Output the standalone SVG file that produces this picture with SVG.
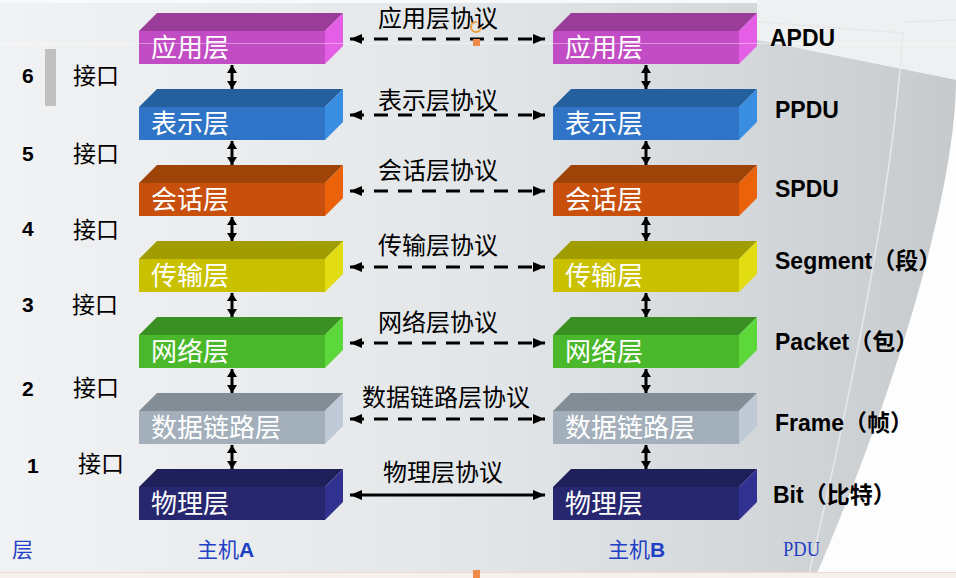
<svg xmlns="http://www.w3.org/2000/svg" width="956" height="578" viewBox="0 0 956 578">
<style>
.cjk{font-family:"Noto Sans CJK SC","Liberation Sans",sans-serif}
.bl{fill:#fff;font-size:26px}
.pr{fill:#000;font-size:24px}
.pdu{font-family:"Liberation Sans","Noto Sans CJK SC",sans-serif;font-weight:bold;font-size:23px;fill:#000}
.num{font-family:"Liberation Sans",sans-serif;font-weight:bold;font-size:21px;fill:#000}
.ifc{fill:#000;font-size:23px}
.blue{fill:#1F3FC4}
.harr{stroke:#000;stroke-width:3;fill:none}
.dash{stroke-dasharray:14 10}
.varr{stroke:#000;stroke-width:3;fill:none}
</style>
<defs>
<linearGradient id="bg" x1="0" y1="0" x2="956" y2="0" gradientUnits="userSpaceOnUse">
<stop offset="0" stop-color="#F1F2F3"/>
<stop offset="0.5" stop-color="#E3E6E8"/>
<stop offset="0.8" stop-color="#D4D7DA"/>
<stop offset="1" stop-color="#D0D3D6"/>
</linearGradient>
<linearGradient id="gray" x1="757" y1="0" x2="956" y2="0" gradientUnits="userSpaceOnUse">
<stop offset="0" stop-color="#D4D7DA"/>
<stop offset="1" stop-color="#C6CACD"/>
</linearGradient>
<marker id="hh" markerUnits="userSpaceOnUse" markerWidth="12" markerHeight="10" refX="12" refY="5" orient="auto-start-reverse" viewBox="0 0 12 10"><path d="M0,0 L12,5 L0,10 Z" fill="#000"/></marker>
<marker id="vh" markerUnits="userSpaceOnUse" markerWidth="8" markerHeight="10" refX="8" refY="5" orient="auto-start-reverse" viewBox="0 0 8 10"><path d="M0,0 L8,5 L0,10 Z" fill="#000"/></marker>
</defs>

<g id="background">
<rect x="0" y="0" width="956" height="578" fill="url(#bg)"/>
<rect x="0" y="0" width="956" height="3" fill="#F8F9FA"/>
<path d="M757,0 H956 V80 L757,40 Z" fill="#EEF0F1"/>
<path d="M757,40 L956,80 C956,180 905,370 815,578 L757,578 Z" fill="url(#gray)"/>
<path d="M956,80 C956,180 905,370 815,578 L956,578 Z" fill="#FDFDFD"/>
<path d="M758,22 L903,33 Q890,230 808,578" fill="none" stroke="#E6E8EA" stroke-width="1.5"/>
<line x1="903" y1="22" x2="956" y2="20" stroke="#E2E4E6" stroke-width="1"/>
<rect x="0" y="572" width="956" height="6" fill="#F6F1EE"/>
<line x1="0" y1="572.5" x2="956" y2="572.5" stroke="#EED9CC" stroke-width="1"/>
</g>

<g id="left-labels" class="cjk">
<rect x="45" y="49" width="11" height="57" fill="#C0C0C0"/>
<text class="num" x="22" y="83">6</text>
<text class="num" x="22" y="161">5</text>
<text class="num" x="22" y="236">4</text>
<text class="num" x="22" y="312">3</text>
<text class="num" x="22" y="396">2</text>
<text class="num" x="27" y="473">1</text>
<text class="ifc cjk" x="73" y="84">接口</text>
<text class="ifc cjk" x="73" y="162">接口</text>
<text class="ifc cjk" x="73" y="238">接口</text>
<text class="ifc cjk" x="72" y="313">接口</text>
<text class="ifc cjk" x="73" y="396">接口</text>
<text class="ifc cjk" x="78" y="472">接口</text>
</g>

<g id="hostA-app" transform="translate(139,13)">
<polygon points="0,18 18,0 204,0 186,18" fill="#9A3D98"/>
<polygon points="186,18 204,0 204,33 186,51" fill="#E45EE6"/>
<rect x="0" y="18" width="186" height="33" fill="#C24CC4"/>
<text class="bl cjk" x="12" y="44">应用层</text>
</g>
<g id="hostA-pres" transform="translate(139,89)">
<polygon points="0,18 18,0 204,0 186,18" fill="#24609E"/>
<polygon points="186,18 204,0 204,33 186,51" fill="#3A8EE2"/>
<rect x="0" y="18" width="186" height="33" fill="#2F74C6"/>
<text class="bl cjk" x="12" y="44">表示层</text>
</g>
<g id="hostA-sess" transform="translate(139,165)">
<polygon points="0,18 18,0 204,0 186,18" fill="#9E4408"/>
<polygon points="186,18 204,0 204,33 186,51" fill="#EA620A"/>
<rect x="0" y="18" width="186" height="33" fill="#C8500C"/>
<text class="bl cjk" x="12" y="44">会话层</text>
</g>
<g id="hostA-trans" transform="translate(139,241)">
<polygon points="0,18 18,0 204,0 186,18" fill="#A19C00"/>
<polygon points="186,18 204,0 204,33 186,51" fill="#E2DC12"/>
<rect x="0" y="18" width="186" height="33" fill="#C9C100"/>
<text class="bl cjk" x="12" y="44">传输层</text>
</g>
<g id="hostA-net" transform="translate(139,317)">
<polygon points="0,18 18,0 204,0 186,18" fill="#3A9022"/>
<polygon points="186,18 204,0 204,33 186,51" fill="#5CD83A"/>
<rect x="0" y="18" width="186" height="33" fill="#4AB82A"/>
<text class="bl cjk" x="12" y="44">网络层</text>
</g>
<g id="hostA-link" transform="translate(139,393)">
<polygon points="0,18 18,0 204,0 186,18" fill="#838D96"/>
<polygon points="186,18 204,0 204,33 186,51" fill="#BFCAD6"/>
<rect x="0" y="18" width="186" height="33" fill="#A3AFBA"/>
<text class="bl cjk" x="12" y="44">数据链路层</text>
</g>
<g id="hostA-phys" transform="translate(139,469)">
<polygon points="0,18 18,0 204,0 186,18" fill="#1F1F5A"/>
<polygon points="186,18 204,0 204,33 186,51" fill="#313192"/>
<rect x="0" y="18" width="186" height="33" fill="#272770"/>
<text class="bl cjk" x="12" y="44">物理层</text>
</g>

<g id="hostB-app" transform="translate(553,13)">
<polygon points="0,18 18,0 204,0 186,18" fill="#9A3D98"/>
<polygon points="186,18 204,0 204,33 186,51" fill="#E45EE6"/>
<rect x="0" y="18" width="186" height="33" fill="#C24CC4"/>
<text class="bl cjk" x="12" y="44">应用层</text>
</g>
<g id="hostB-pres" transform="translate(553,89)">
<polygon points="0,18 18,0 204,0 186,18" fill="#24609E"/>
<polygon points="186,18 204,0 204,33 186,51" fill="#3A8EE2"/>
<rect x="0" y="18" width="186" height="33" fill="#2F74C6"/>
<text class="bl cjk" x="12" y="44">表示层</text>
</g>
<g id="hostB-sess" transform="translate(553,165)">
<polygon points="0,18 18,0 204,0 186,18" fill="#9E4408"/>
<polygon points="186,18 204,0 204,33 186,51" fill="#EA620A"/>
<rect x="0" y="18" width="186" height="33" fill="#C8500C"/>
<text class="bl cjk" x="12" y="44">会话层</text>
</g>
<g id="hostB-trans" transform="translate(553,241)">
<polygon points="0,18 18,0 204,0 186,18" fill="#A19C00"/>
<polygon points="186,18 204,0 204,33 186,51" fill="#E2DC12"/>
<rect x="0" y="18" width="186" height="33" fill="#C9C100"/>
<text class="bl cjk" x="12" y="44">传输层</text>
</g>
<g id="hostB-net" transform="translate(553,317)">
<polygon points="0,18 18,0 204,0 186,18" fill="#3A9022"/>
<polygon points="186,18 204,0 204,33 186,51" fill="#5CD83A"/>
<rect x="0" y="18" width="186" height="33" fill="#4AB82A"/>
<text class="bl cjk" x="12" y="44">网络层</text>
</g>
<g id="hostB-link" transform="translate(553,393)">
<polygon points="0,18 18,0 204,0 186,18" fill="#838D96"/>
<polygon points="186,18 204,0 204,33 186,51" fill="#BFCAD6"/>
<rect x="0" y="18" width="186" height="33" fill="#A3AFBA"/>
<text class="bl cjk" x="12" y="44">数据链路层</text>
</g>
<g id="hostB-phys" transform="translate(553,469)">
<polygon points="0,18 18,0 204,0 186,18" fill="#1F1F5A"/>
<polygon points="186,18 204,0 204,33 186,51" fill="#313192"/>
<rect x="0" y="18" width="186" height="33" fill="#272770"/>
<text class="bl cjk" x="12" y="44">物理层</text>
</g>

<line x1="0" y1="43.5" x2="956" y2="43.5" stroke="#FFFFFF" stroke-opacity="0.4" stroke-width="1"/>

<g id="connectors">
<line class="varr" x1="232" y1="65" x2="232" y2="89" marker-start="url(#vh)" marker-end="url(#vh)"/>
<line class="varr" x1="232" y1="141" x2="232" y2="165" marker-start="url(#vh)" marker-end="url(#vh)"/>
<line class="varr" x1="232" y1="217" x2="232" y2="241" marker-start="url(#vh)" marker-end="url(#vh)"/>
<line class="varr" x1="232" y1="293" x2="232" y2="317" marker-start="url(#vh)" marker-end="url(#vh)"/>
<line class="varr" x1="232" y1="369" x2="232" y2="393" marker-start="url(#vh)" marker-end="url(#vh)"/>
<line class="varr" x1="232" y1="445" x2="232" y2="469" marker-start="url(#vh)" marker-end="url(#vh)"/>
<line class="varr" x1="646" y1="65" x2="646" y2="89" marker-start="url(#vh)" marker-end="url(#vh)"/>
<line class="varr" x1="646" y1="141" x2="646" y2="165" marker-start="url(#vh)" marker-end="url(#vh)"/>
<line class="varr" x1="646" y1="217" x2="646" y2="241" marker-start="url(#vh)" marker-end="url(#vh)"/>
<line class="varr" x1="646" y1="293" x2="646" y2="317" marker-start="url(#vh)" marker-end="url(#vh)"/>
<line class="varr" x1="646" y1="369" x2="646" y2="393" marker-start="url(#vh)" marker-end="url(#vh)"/>
<line class="varr" x1="646" y1="445" x2="646" y2="469" marker-start="url(#vh)" marker-end="url(#vh)"/>
<line class="harr dash" x1="350" y1="39" x2="545" y2="39" marker-start="url(#hh)" marker-end="url(#hh)"/>
<line class="harr dash" x1="350" y1="115" x2="545" y2="115" marker-start="url(#hh)" marker-end="url(#hh)"/>
<line class="harr dash" x1="350" y1="191" x2="545" y2="191" marker-start="url(#hh)" marker-end="url(#hh)"/>
<line class="harr dash" x1="350" y1="267" x2="545" y2="267" marker-start="url(#hh)" marker-end="url(#hh)"/>
<line class="harr dash" x1="350" y1="343" x2="545" y2="343" marker-start="url(#hh)" marker-end="url(#hh)"/>
<line class="harr dash" x1="350" y1="419" x2="545" y2="419" marker-start="url(#hh)" marker-end="url(#hh)"/>
<line class="harr" x1="350" y1="495" x2="545" y2="495" marker-start="url(#hh)" marker-end="url(#hh)"/>
</g>

<g id="protocol-labels" class="cjk">
<text class="pr cjk" x="378" y="27">应用层协议</text>
<text class="pr cjk" x="378" y="109">表示层协议</text>
<text class="pr cjk" x="378" y="179">会话层协议</text>
<text class="pr cjk" x="378" y="254">传输层协议</text>
<text class="pr cjk" x="378" y="331">网络层协议</text>
<text class="pr cjk" x="362" y="406">数据链路层协议</text>
<text class="pr cjk" x="383" y="481">物理层协议</text>
</g>

<g id="pdu-labels">
<text class="pdu" x="770" y="46">APDU</text>
<text class="pdu" x="775" y="118">PPDU</text>
<text class="pdu" x="775" y="197">SPDU</text>
<text class="pdu" x="775" y="269">Segment（段）</text>
<text class="pdu" x="775" y="350">Packet（包）</text>
<text class="pdu" x="775" y="431">Frame（帧）</text>
<text class="pdu" x="773" y="503">Bit（比特）</text>
</g>

<g id="footer-labels">
<text class="blue cjk" x="12" y="557" font-size="21">层</text>
<text class="blue cjk" x="197" y="557" font-size="21">主机<tspan font-family="Liberation Sans,sans-serif" font-weight="bold">A</tspan></text>
<text class="blue cjk" x="608" y="557" font-size="21">主机<tspan font-family="Liberation Sans,sans-serif" font-weight="bold">B</tspan></text>
<text class="blue" x="783" y="556" font-family="Liberation Serif,serif" font-size="22" textLength="37" lengthAdjust="spacingAndGlyphs">PDU</text>
</g>

<g id="selection-handles">
<circle cx="476" cy="27" r="5" fill="none" stroke="#F0A040" stroke-width="2" stroke-dasharray="24 8"/>
<rect x="473" y="39" width="7" height="7" fill="#F08A4B"/>
<rect x="473" y="570" width="7" height="8" fill="#F08A4B"/>
</g>
</svg>
